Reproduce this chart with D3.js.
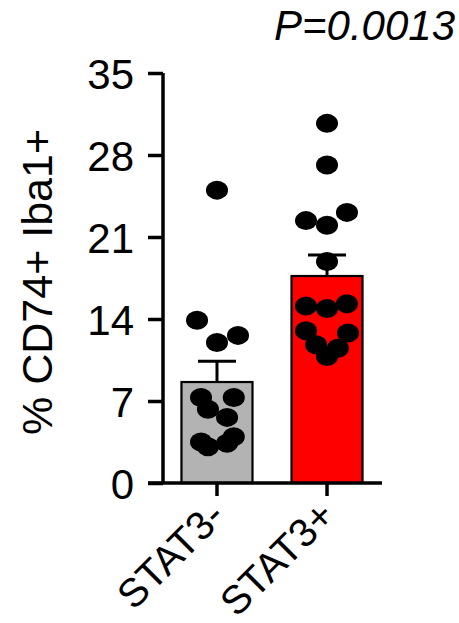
<!DOCTYPE html>
<html>
<head>
<meta charset="utf-8">
<script src="https://cdn.jsdelivr.net/npm/d3@7"></script>
<style>
  html, body { margin: 0; padding: 0; background: #fff; }
  svg { display: block; }
  text { font-family: "Liberation Sans", Arial, sans-serif; fill: #000; }
</style>
</head>
<body>
<svg id="chart" width="459" height="623"></svg>
<script>
// ---- data ----
const categories = ["STAT3-", "STAT3+"];
const barColors = ["#b3b3b3", "#ff0000"];
const means = [8.62, 17.67];
const sems = [1.78, 1.79];
const valuesNeg = [25.0, 13.9, 12.6, 12.0, 7.3, 7.3, 6.3, 5.6, 3.5, 3.95, 3.1, 3.4];
const jitterNeg = [0, -0.95, 1, 0, -0.76, 0.8, -0.43, 0.48, -0.76, 0.8, -0.43, 0.48];
const valuesPos = [30.7, 27.15, 22.4, 22.0, 23.1, 18.9, 15.1, 14.9, 15.3, 13.0, 12.8, 11.8, 11.5, 10.8];
const jitterPos = [0, 0, -1, 0, 0.95, 0, -1, 0, 0.95, -1, 1, -0.52, 0.52, 0];
const yTicks = [0, 7, 14, 21, 28, 35];
const yLabel = "% CD74+ Iba1+";
const pLabel = "P=0.0013";

const groups = [
  { cat: categories[0], values: valuesNeg, jitter: jitterNeg },
  { cat: categories[1], values: valuesPos, jitter: jitterPos }
];

// ---- layout ----
const svg = d3.select("#chart");
const axisX = 163, xEnd = 382, y0 = 483, yTop = 73;
const tickLen = 15;
const fontSize = 42;

const y = d3.scaleLinear().domain([0, 35]).range([y0, yTop]);
const x = d3.scaleBand().domain(categories).range([162, 382])
  .paddingInner(0.3545).paddingOuter(0.177);
const dotStep = 21;

// bars
svg.append("g").selectAll("rect").data(categories).join("rect")
  .attr("x", d => x(d))
  .attr("y", (d, i) => y(means[i]))
  .attr("width", x.bandwidth())
  .attr("height", (d, i) => y(0) - y(means[i]))
  .attr("fill", (d, i) => barColors[i])
  .attr("stroke", "#000")
  .attr("stroke-width", 2.2);

// error bars
const eb = svg.append("g").attr("stroke", "#000").attr("stroke-width", 3);
categories.forEach((c, i) => {
  const cx = x(c) + x.bandwidth() / 2;
  eb.append("line").attr("x1", cx).attr("x2", cx)
    .attr("y1", y(means[i])).attr("y2", y(means[i] + sems[i]));
  eb.append("line").attr("x1", cx - 19).attr("x2", cx + 19)
    .attr("y1", y(means[i] + sems[i])).attr("y2", y(means[i] + sems[i]));
});

// dots
groups.forEach(g => {
  const cx = x(g.cat) + x.bandwidth() / 2;
  svg.append("g").selectAll("ellipse").data(g.values).join("ellipse")
    .attr("cx", (d, i) => cx + g.jitter[i] * dotStep)
    .attr("cy", d => y(d))
    .attr("rx", 11)
    .attr("ry", 9.5)
    .attr("fill", "#000");
});

// y axis
const yAxis = d3.axisLeft(y).tickValues(yTicks).tickSize(tickLen).tickSizeOuter(0).tickPadding(14);
const gy = svg.append("g").attr("transform", `translate(${axisX},0)`).call(yAxis);
gy.select(".domain").attr("stroke", "#000").attr("stroke-width", 3.5)
  .attr("d", `M0,${yTop}V${y0}`);
gy.selectAll(".tick line").attr("stroke", "#000").attr("stroke-width", 3.5);
gy.selectAll(".tick text").attr("font-size", fontSize)
  .attr("font-family", "Liberation Sans, Arial, sans-serif").attr("dy", "0.36em");

// x axis
const xAxis = d3.axisBottom(x).tickSize(13).tickSizeOuter(0).tickFormat("");
const gx = svg.append("g").attr("transform", `translate(0,${y0})`).call(xAxis);
gx.select(".domain").attr("stroke", "#000").attr("stroke-width", 3.5)
  .attr("d", `M${axisX - tickLen},0H${xEnd}`);
gx.selectAll(".tick line").attr("stroke", "#000").attr("stroke-width", 3.5);

// rotated category labels
svg.append("g").selectAll("text").data(categories).join("text")
  .attr("transform", d => `translate(${x(d) + x.bandwidth() / 2 + 10},${y0 + 35}) rotate(-45)`)
  .attr("text-anchor", "end")
  .attr("font-size", 40)
  .text(d => d);

// y label
svg.append("text")
  .attr("transform", `translate(52,282) rotate(-90)`)
  .attr("text-anchor", "middle")
  .attr("font-size", 43)
  .text(yLabel);

// p value
svg.append("text")
  .attr("x", 455).attr("y", 40)
  .attr("text-anchor", "end")
  .attr("font-size", 42)
  .attr("font-style", "italic")
  .text(pLabel);
</script>
</body>
</html>
